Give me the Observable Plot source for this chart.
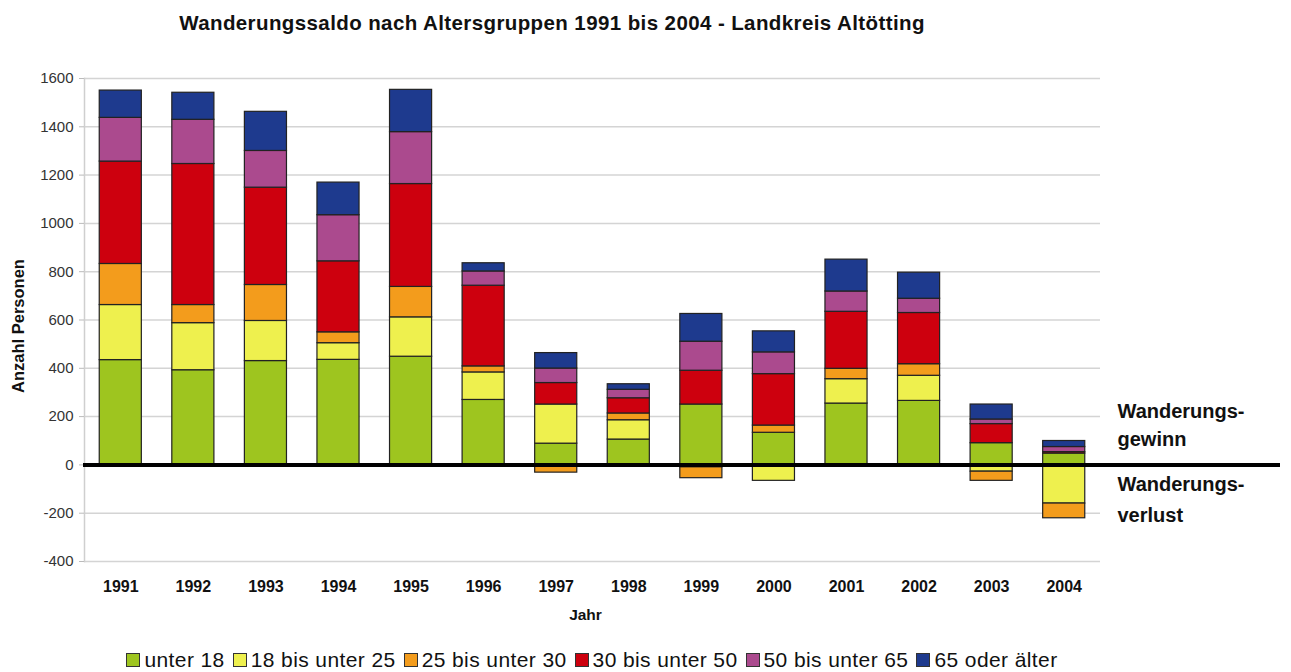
<!DOCTYPE html>
<html>
<head>
<meta charset="utf-8">
<script src="https://cdn.jsdelivr.net/npm/d3@7"></script>
<script src="https://cdn.jsdelivr.net/npm/@observablehq/plot@0.6"></script>
<style>
  body { margin: 0; background: #fff; font-family: "Liberation Sans", Arial, sans-serif; }
  #title { width: 1104px; height: 45px; line-height: 45px; text-align: center; font-weight: bold; font-size: 20.5px; letter-spacing: 0.4px; color: #111; }
  #legend { width: 1184px; height: 30px; display: flex; justify-content: center; align-items: center; font-size: 21px; letter-spacing: 0.4px; color: #111; }
  .item { display: flex; align-items: center; margin: 0 4px; }
  .sw { width: 12px; height: 12px; border: 1.5px solid #333; margin-right: 4px; box-sizing: content-box; }
</style>
</head>
<body>
<div id="title">Wanderungssaldo nach Altersgruppen 1991 bis 2004 - Landkreis Altötting</div>
<div id="chart"></div>
<div id="legend"></div>
<script>
const years = ["1991","1992","1993","1994","1995","1996","1997","1998","1999","2000","2001","2002","2003","2004"];
const groups = ["unter 18","18 bis unter 25","25 bis unter 30","30 bis unter 50","50 bis unter 65","65 oder älter"];
const colors = ["#9ec51f","#eef04e","#f39c1c","#cd000e","#ab4a8e","#1e3a8e"];
const unter18 = [434,392,430,435,448,269,88,105,250,133,254,265,90,47];
const bis25   = [228,195,166,69,163,114,162,80,-10,-66,101,104,-28,-160];
const bis30   = [170,75,149,45,126,25,-32,28,-45,30,43,48,-38,-61];
const bis50   = [424,584,403,294,426,334,89,63,140,213,236,212,79,6];
const bis65   = [181,183,152,191,215,59,60,35,120,90,84,59,19,21];
const ab65    = [113,112,162,135,175,34,64,23,115,87,132,108,62,25];
const yTicks = [-400,-200,0,200,400,600,800,1000,1200,1400,1600];
const notes = [
  {y: 220, text: "Wanderungs-"},
  {y: 104, text: "gewinn"},
  {y: -83, text: "Wanderungs-"},
  {y: -211, text: "verlust"}
];

const series = [unter18, bis25, bis30, bis50, bis65, ab65];
const data = [];
groups.forEach((g, gi) => years.forEach((yr, i) => data.push({year: yr, group: g, value: series[gi][i]})));

const font = '"Liberation Sans", Arial, sans-serif';
const chart = Plot.plot({
  width: 1291,
  height: 600,
  marginTop: 33,
  marginBottom: 84,
  marginLeft: 84,
  marginRight: 191,
  style: {fontFamily: font, background: "#fff"},
  x: {domain: years, paddingInner: 0.42, paddingOuter: 0.21, round: false, label: null},
  y: {domain: [-400, 1600], ticks: yTicks, label: null},
  color: {domain: groups, range: colors},
  marks: [
    Plot.gridY(yTicks, {stroke: "#d4d4d4", strokeOpacity: 1, strokeWidth: 1.5}),
    Plot.frame({anchor: "left", stroke: "#cfcfcf", strokeWidth: 1.5}),
    Plot.axisY(yTicks, {tickSize: 5, tickPadding: 6, stroke: "#bbb", fill: "#333", fontSize: 15, tickFormat: d => String(d)}),
    Plot.axisX({tickSize: 0, tickPadding: 19, fontSize: 16, fontWeight: "bold", fill: "#111", label: null}),
    Plot.barY(data, {x: "year", y: "value", fill: "group", stroke: "#222", strokeWidth: 1.2}),
    Plot.ruleY([0], {stroke: "#000", strokeWidth: 4, insetLeft: -1, insetRight: -180}),
    Plot.text(["Jahr"], {frameAnchor: "bottom", dy: 54, dx: -7, text: d => d, fontSize: 15.5, fontWeight: "bold", fill: "#111", textAnchor: "middle", lineAnchor: "middle"}),
    Plot.text(["Anzahl Personen"], {frameAnchor: "left", dx: -66, dy: 6, text: d => d, rotate: -90, fontSize: 16.5, fontWeight: "bold", fill: "#111", textAnchor: "middle", lineAnchor: "middle"}),
    Plot.text(notes, {y: "y", text: "text", frameAnchor: "right", dx: 17, textAnchor: "start", lineAnchor: "middle", fontSize: 20, fontWeight: "bold", fill: "#111", letterSpacing: "0.6px"})
  ]
});
document.getElementById("chart").appendChild(chart);

const legend = document.getElementById("legend");
groups.forEach((g, i) => {
  const it = document.createElement("div");
  it.className = "item";
  const sw = document.createElement("span");
  sw.className = "sw";
  sw.style.background = colors[i];
  const t = document.createElement("span");
  t.textContent = g;
  it.appendChild(sw);
  it.appendChild(t);
  legend.appendChild(it);
});
</script>
</body>
</html>
